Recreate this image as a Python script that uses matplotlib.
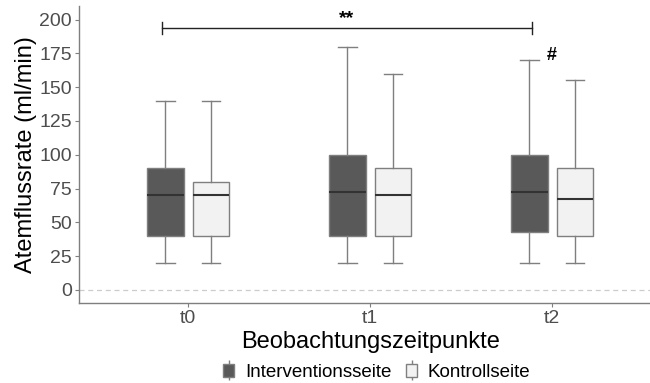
import numpy as np
import matplotlib.pyplot as plt
from matplotlib.patches import Patch
from matplotlib.lines import Line2D
from matplotlib.legend_handler import HandlerTuple

plt.rcParams["font.family"] = ["Liberation Sans", "DejaVu Sans"]

# ---------------------------- data ----------------------------
zeitpunkte = ["t0", "t1", "t2"]
gruppen = ["Interventionsseite", "Kontrollseite"]

# per time point: lower whisker, Q1, median, Q3, upper whisker
interv_low = [20, 20, 20]
interv_q1 = [40, 40, 43]
interv_med = [70, 72.5, 72.5]
interv_q3 = [90, 100, 100]
interv_high = [140, 180, 170]

kontr_low = [20, 20, 20]
kontr_q1 = [40, 40, 40]
kontr_med = [70, 70, 67.5]
kontr_q3 = [80, 90, 90]
kontr_high = [140, 160, 155]

sig_label = "**"
hash_label = "#"
# ---------------------------------------------------------------

colors = ["#595959", "#f2f2f2"]
edge = "#7f7f7f"

fig = plt.figure(figsize=(6.5, 3.83), dpi=100)
ax = fig.add_axes([0.1215, 0.208, 0.896, 0.776])

x = np.arange(1, len(zeitpunkte) + 1)
offs = [-0.125, 0.125]

series = [
    (interv_low, interv_q1, interv_med, interv_q3, interv_high),
    (kontr_low, kontr_q1, kontr_med, kontr_q3, kontr_high),
]

for k, (lo, q1, med, q3, hi) in enumerate(series):
    stats = []
    for i in range(len(zeitpunkte)):
        stats.append({"whislo": lo[i], "q1": q1[i], "med": med[i],
                      "q3": q3[i], "whishi": hi[i], "fliers": []})
    ax.bxp(stats, positions=x + offs[k], widths=0.2, patch_artist=True,
           showfliers=False,
           boxprops=dict(facecolor=colors[k], edgecolor=edge, linewidth=1.0),
           whiskerprops=dict(color=edge, linewidth=1.0),
           capprops=dict(color=edge, linewidth=1.0),
           medianprops=dict(color="#333333", linewidth=1.5),
           capwidths=0.1, manage_ticks=False)

# dashed zero line
ax.axhline(0, color="#cccccc", linestyle=(0, (4, 3)), linewidth=0.9, zorder=0)

# significance bracket
bx0 = x[0] - 0.145
bx1 = x[2] - 0.109
by = 194
ax.plot([bx0, bx1], [by, by], color="#222222", linewidth=1.0)
ax.plot([bx0, bx0], [by - 4.5, by + 4.5], color="#222222", linewidth=1.0)
ax.plot([bx1, bx1], [by - 4.5, by + 4.5], color="#222222", linewidth=1.0)
ax.text((bx0 + bx1) / 2, by + 0.5, sig_label, ha="center", va="bottom",
        fontsize=14, fontweight="bold")
ax.text(x[2], 167, hash_label, ha="center", va="bottom",
        fontsize=13, fontweight="bold")

ax.set_xlim(0.4, 3.6)
ax.set_ylim(-10, 210)
ax.set_xticks(x)
ax.set_xticklabels(zeitpunkte)
ax.set_yticks(np.arange(0, 201, 25))

for s in ["top", "right"]:
    ax.spines[s].set_visible(False)
for s in ["left", "bottom"]:
    ax.spines[s].set_color("#7f7f7f")
    ax.spines[s].set_linewidth(1.0)
ax.tick_params(colors="#7f7f7f", labelcolor="#4d4d4d", labelsize=14,
               length=3, width=0.8, pad=2)

ax.set_xlabel("Beobachtungszeitpunkte", fontsize=17, color="black", labelpad=3)
ax.set_ylabel("Atemflussrate (ml/min)", fontsize=17, color="black", labelpad=2)

handles = []
for c in colors:
    whisk = Line2D([], [], marker="|", markersize=15, color=edge,
                   linestyle="None", markeredgewidth=1.0)
    box = Patch(facecolor=c, edgecolor=edge)
    handles.append((whisk, box))
fig.legend(handles, gruppen, loc="center", bbox_to_anchor=(0.58, 0.028),
           ncol=2, frameon=False, fontsize=13.5, handlelength=0.55,
           handleheight=0.7, handletextpad=0.6, columnspacing=0.8,
           handler_map={tuple: HandlerTuple(ndivide=1)})

fig.savefig("out.png", dpi=100)
